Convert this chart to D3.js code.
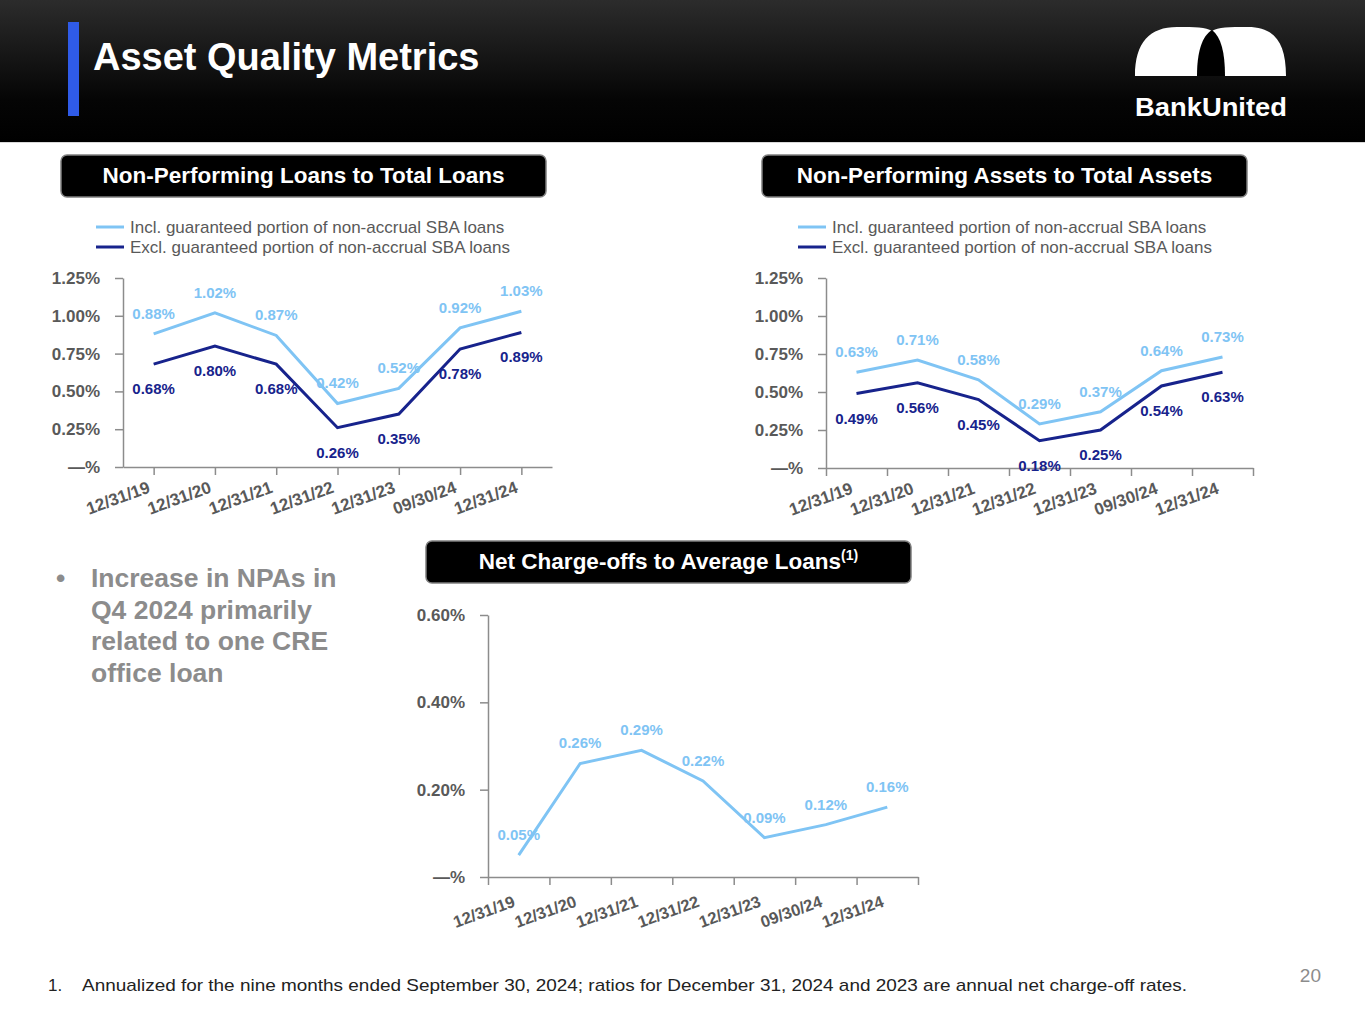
<!DOCTYPE html>
<html>
<head>
<meta charset="utf-8">
<script src="https://cdn.jsdelivr.net/npm/d3@7"></script>
<style>
  body { margin: 0; background: #fff; }
  svg { display: block; font-family: "Liberation Sans", Arial, sans-serif; }
</style>
</head>
<body>
<svg id="slide" width="1365" height="1024"></svg>
<script>
// ---- data ----
var categories = ['12/31/19', '12/31/20', '12/31/21', '12/31/22', '12/31/23', '09/30/24', '12/31/24'];
var nplIncl = [0.88, 1.02, 0.87, 0.42, 0.52, 0.92, 1.03];
var nplExcl = [0.68, 0.80, 0.68, 0.26, 0.35, 0.78, 0.89];
var npaIncl = [0.63, 0.71, 0.58, 0.29, 0.37, 0.64, 0.73];
var npaExcl = [0.49, 0.56, 0.45, 0.18, 0.25, 0.54, 0.63];
var ncoValues = [0.05, 0.26, 0.29, 0.22, 0.09, 0.12, 0.16];
var npTicks = [0, 0.25, 0.50, 0.75, 1.00, 1.25];
var ncoTicks = [0, 0.20, 0.40, 0.60];
var legendLabels = ['Incl. guaranteed portion of non-accrual SBA loans', 'Excl. guaranteed portion of non-accrual SBA loans'];

var LIGHT = '#7fc4f4', DARK = '#17238c', AXIS = '#8c8c8c', TXT = '#595959';

var svg = d3.select('#slide');
var pct = function (v) { return v === 0 ? '\u2014%' : d3.format('.2f')(v) + '%'; };

// ---- header ----
var defs = svg.append('defs');
var grad = defs.append('linearGradient').attr('id', 'hdr').attr('x1', 0).attr('y1', 0).attr('x2', 0).attr('y2', 1);
grad.append('stop').attr('offset', '0%').attr('stop-color', '#2c2c2c');
grad.append('stop').attr('offset', '70%').attr('stop-color', '#050505');
grad.append('stop').attr('offset', '100%').attr('stop-color', '#000');
svg.append('rect').attr('x', 0).attr('y', 0).attr('width', 1365).attr('height', 142).attr('fill', 'url(#hdr)');
svg.append('line').attr('x1', 0).attr('x2', 1365).attr('y1', 142.5).attr('y2', 142.5).attr('stroke', '#d9d9d9');
svg.append('rect').attr('x', 68).attr('y', 22).attr('width', 11).attr('height', 94).attr('fill', '#2f5be8');
svg.append('text').attr('x', 93).attr('y', 70).attr('fill', '#fff')
    .style('font-size', '38px').style('font-weight', 'bold').text('Asset Quality Metrics');

// logo
svg.append('path')
    .attr('d', 'M1135,76 C1135,42 1150,27 1177,27 C1195,27 1206,27 1212,31 C1218,27 1229,27 1248,27 C1274,27 1286,42 1286,76 Z')
    .attr('fill', '#fff');
svg.append('path')
    .attr('d', 'M1212,30 C1202,36 1197,52 1197,76 L1225,76 C1225,52 1221,37 1212,30 Z')
    .attr('fill', '#000');
svg.append('text').attr('x', 1135).attr('y', 116).attr('fill', '#fff')
    .attr('textLength', 152).attr('lengthAdjust', 'spacingAndGlyphs')
    .style('font-size', '26px').style('font-weight', 'bold').text('BankUnited');

// ---- panel titles ----
function panelTitle(x, y, w, h, label, sup) {
    svg.append('rect').attr('x', x).attr('y', y).attr('width', w).attr('height', h).attr('rx', 6)
        .attr('fill', '#000').attr('stroke', '#7f7f7f').attr('stroke-width', 1.5);
    var t = svg.append('text').attr('x', x + w / 2).attr('y', y + h / 2 + 7)
        .attr('text-anchor', 'middle').attr('fill', '#fff')
        .style('font-size', '22.5px').style('font-weight', 'bold').text(label);
    if (sup) t.append('tspan').attr('dy', -9).style('font-size', '14px').text(sup);
}
panelTitle(61, 155, 485, 42, 'Non-Performing Loans to Total Loans');
panelTitle(762, 155, 485, 42, 'Non-Performing Assets to Total Assets');
panelTitle(426, 541, 485, 42, 'Net Charge-offs to Average Loans', '(1)');

// ---- legends ----
function legend(x, y) {
    var g = svg.append('g').attr('transform', 'translate(' + x + ',' + y + ')');
    [LIGHT, DARK].forEach(function (c, i) {
        g.append('line').attr('x1', 0).attr('x2', 28).attr('y1', i * 20).attr('y2', i * 20)
            .attr('stroke', c).attr('stroke-width', 3);
        g.append('text').attr('x', 34).attr('y', i * 20 + 6).attr('fill', TXT)
            .style('font-size', '17px').text(legendLabels[i]);
    });
}
legend(96, 227);
legend(798, 227);

// ---- line chart ----
function lineChart(o) {
    var g = svg.append('g');
    var y = d3.scaleLinear().domain([0, o.yMax]).range([o.bottom, o.top]);
    var xb = d3.scaleBand().domain(categories).range([o.left, o.right]);
    var cx = function (c) { return xb(c) + xb.bandwidth() / 2; };

    // y axis
    var ya = g.append('g').attr('transform', 'translate(' + o.left + ',0)')
        .call(d3.axisLeft(y).tickValues(o.ticks).tickSize(8).tickSizeOuter(0).tickPadding(15).tickFormat(pct));
    ya.selectAll('path, line').attr('stroke', AXIS).attr('stroke-width', 1.5);
    ya.selectAll('text').attr('fill', TXT).style('font-size', '17px').style('font-weight', 'bold')
        .style('font-family', '"Liberation Sans", Arial, sans-serif');

    // x axis: tick marks (at points or at band edges)
    var xa;
    if (o.tickAtPoints) {
        var xp = d3.scalePoint().domain(categories).range([o.left, o.right]).padding(0.5);
        xa = g.append('g').attr('transform', 'translate(0,' + o.bottom + ')')
            .call(d3.axisBottom(xp).tickSize(8).tickSizeOuter(0));
    } else {
        var edge = d3.scaleLinear().domain([0, categories.length]).range([o.left, o.right]);
        g.append('g').attr('transform', 'translate(0,' + o.bottom + ')')
            .call(d3.axisBottom(edge).tickValues(d3.range(categories.length + 1)).tickSize(8).tickSizeOuter(0).tickFormat(''))
            .selectAll('path, line').attr('stroke', AXIS).attr('stroke-width', 1.5);
        var xp2 = d3.scalePoint().domain(categories).range([o.left, o.right]).padding(0.5);
        xa = g.append('g').attr('transform', 'translate(0,' + o.bottom + ')')
            .call(d3.axisBottom(xp2).tickSize(0).tickSizeOuter(0));
        xa.select('.domain').remove();
    }
    xa.selectAll('path, line').attr('stroke', AXIS).attr('stroke-width', 1.5);
    xa.selectAll('text')
        .attr('x', 0).attr('y', 0).attr('dy', 0)
        .attr('text-anchor', 'end')
        .attr('transform', 'translate(-3,' + o.labelDy + ') rotate(-20)')
        .attr('fill', TXT).style('font-size', o.tickFont).style('font-weight', 'bold')
        .style('font-family', '"Liberation Sans", Arial, sans-serif');

    var line = d3.line()
        .x(function (d, i) { return cx(categories[i]); })
        .y(function (d) { return y(d); });

    o.series.forEach(function (s) {
        g.append('path').datum(s.values).attr('d', line)
            .attr('fill', 'none').attr('stroke', s.color).attr('stroke-width', 3);
    });
    o.series.forEach(function (s) {
        g.selectAll(null).data(s.values).enter().append('text')
            .attr('x', function (d, i) { return cx(categories[i]); })
            .attr('y', function (d) { return s.above ? y(d) - 15 : y(d) + 30; })
            .attr('text-anchor', 'middle').attr('fill', s.color)
            .style('font-size', '15px').style('font-weight', 'bold')
            .text(function (d) { return d3.format('.2f')(d) + '%'; });
    });
}

lineChart({
    left: 123, right: 552, top: 278, bottom: 467, yMax: 1.25, ticks: npTicks,
    tickAtPoints: true, labelDy: 25, tickFont: '17px',
    series: [{ values: nplIncl, color: LIGHT, above: true }, { values: nplExcl, color: DARK, above: false }]
});
lineChart({
    left: 826, right: 1253, top: 278, bottom: 468, yMax: 1.25, ticks: npTicks,
    tickAtPoints: false, labelDy: 25, tickFont: '17px',
    series: [{ values: npaIncl, color: LIGHT, above: true }, { values: npaExcl, color: DARK, above: false }]
});
lineChart({
    left: 488, right: 918, top: 615, bottom: 877, yMax: 0.60, ticks: ncoTicks,
    tickAtPoints: false, labelDy: 29, tickFont: '16.5px',
    series: [{ values: ncoValues, color: LIGHT, above: true }]
});

// ---- bullet text ----
var bullet = ['Increase in NPAs in', 'Q4 2024 primarily', 'related to one CRE', 'office loan'];
svg.append('text').attr('x', 56).attr('y', 587).attr('fill', '#8c8c8c')
    .style('font-size', '26.5px').style('font-weight', 'bold').text('\u2022');
svg.selectAll('.bl').data(bullet).enter().append('text')
    .attr('x', 91).attr('y', function (d, i) { return 587 + i * 31.7; })
    .attr('fill', '#8c8c8c').style('font-size', '26.5px').style('font-weight', 'bold')
    .text(function (d) { return d; });

// ---- footnote and page number ----
svg.append('text').attr('x', 48).attr('y', 991).attr('fill', '#222').style('font-size', '17px').text('1.');
svg.append('text').attr('x', 82).attr('y', 991).attr('fill', '#222').style('font-size', '17px')
    .attr('textLength', 1105).attr('lengthAdjust', 'spacingAndGlyphs')
    .text('Annualized for the nine months ended September 30, 2024; ratios for December 31, 2024 and 2023 are annual net charge-off rates.');
svg.append('text').attr('x', 1321).attr('y', 982).attr('text-anchor', 'end').attr('fill', '#8c8c8c')
    .style('font-size', '19px').text('20');
</script>
</body>
</html>
